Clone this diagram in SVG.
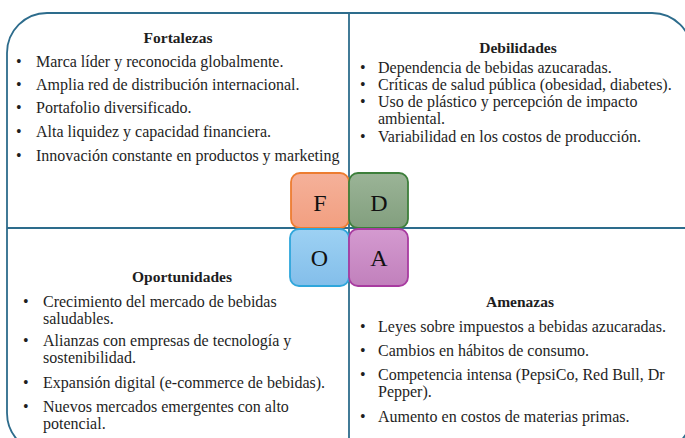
<svg xmlns="http://www.w3.org/2000/svg" width="685" height="438" viewBox="0 0 685 438">
<defs>
<style>
.t{font-family:"Liberation Serif","Times New Roman",serif;font-size:16px;fill:#1e1e1e}
.h{font-family:"Liberation Serif","Times New Roman",serif;font-size:15.5px;font-weight:bold;fill:#1e1e1e;text-anchor:middle}
.l{font-family:"Liberation Serif","Times New Roman",serif;font-size:24px;fill:#111;text-anchor:middle}
.div{stroke:#2D6C8C;stroke-width:1.8;fill:none}
</style>
<linearGradient id="gF" x1="0" y1="0" x2="0" y2="1"><stop offset="0" stop-color="#F5B19A"/><stop offset="1" stop-color="#F29F80"/></linearGradient>
<linearGradient id="gD" x1="0" y1="0" x2="0" y2="1"><stop offset="0" stop-color="#9BB497"/><stop offset="1" stop-color="#829F7E"/></linearGradient>
<linearGradient id="gO" x1="0" y1="0" x2="0" y2="1"><stop offset="0" stop-color="#9DD1F3"/><stop offset="1" stop-color="#83BEEA"/></linearGradient>
<linearGradient id="gA" x1="0" y1="0" x2="0" y2="1"><stop offset="0" stop-color="#D49AD0"/><stop offset="1" stop-color="#C180BC"/></linearGradient>
</defs>
<rect width="685" height="438" fill="#ffffff"/>
<g id="frame">
<rect x="7" y="13" width="685" height="440" rx="40" ry="40" class="div"/>
</g>
<g id="connectors">
<line x1="349" y1="13" x2="349" y2="438" class="div"/>
<line x1="7" y1="228" x2="692" y2="228" class="div"/>
</g>
<g id="fortalezas">
<text x="178" y="43" class="h">Fortalezas</text>
<text class="t"><tspan x="16" y="67">•</tspan><tspan x="36" y="67">Marca líder y reconocida globalmente.</tspan></text>
<text class="t"><tspan x="16" y="90">•</tspan><tspan x="36" y="90">Amplia red de distribución internacional.</tspan></text>
<text class="t"><tspan x="16" y="113">•</tspan><tspan x="36" y="113">Portafolio diversificado.</tspan></text>
<text class="t"><tspan x="16" y="137">•</tspan><tspan x="36" y="137">Alta liquidez y capacidad financiera.</tspan></text>
<text class="t"><tspan x="16" y="161">•</tspan><tspan x="36" y="161">Innovación constante en productos y marketing</tspan></text>
</g>
<g id="debilidades">
<text x="518" y="53" class="h">Debilidades</text>
<text class="t"><tspan x="360" y="73">•</tspan><tspan x="378" y="73">Dependencia de bebidas azucaradas.</tspan></text>
<text class="t"><tspan x="360" y="90">•</tspan><tspan x="378" y="90">Críticas de salud pública (obesidad, diabetes).</tspan></text>
<text class="t"><tspan x="360" y="107">•</tspan><tspan x="378" y="107">Uso de plástico y percepción de impacto</tspan><tspan x="378" y="124">ambiental.</tspan></text>
<text class="t"><tspan x="360" y="142">•</tspan><tspan x="378" y="142">Variabilidad en los costos de producción.</tspan></text>
</g>
<g id="oportunidades">
<text x="182" y="282" class="h">Oportunidades</text>
<text class="t"><tspan x="23" y="307">•</tspan><tspan x="43" y="307">Crecimiento del mercado de bebidas</tspan><tspan x="43" y="324">saludables.</tspan></text>
<text class="t"><tspan x="23" y="346">•</tspan><tspan x="43" y="346">Alianzas  con empresas de tecnología y</tspan><tspan x="43" y="363">sostenibilidad.</tspan></text>
<text class="t"><tspan x="23" y="388">•</tspan><tspan x="43" y="388">Expansión digital (e-commerce de bebidas).</tspan></text>
<text class="t"><tspan x="23" y="412">•</tspan><tspan x="43" y="412">Nuevos mercados emergentes con alto</tspan><tspan x="43" y="429">potencial.</tspan></text>
</g>
<g id="amenazas">
<text x="520" y="307" class="h">Amenazas</text>
<text class="t"><tspan x="360" y="332">•</tspan><tspan x="378" y="332">Leyes sobre impuestos a bebidas azucaradas.</tspan></text>
<text class="t"><tspan x="360" y="356">•</tspan><tspan x="378" y="356">Cambios en hábitos de consumo.</tspan></text>
<text class="t"><tspan x="360" y="380">•</tspan><tspan x="378" y="380">Competencia intensa (PepsiCo, Red Bull, Dr</tspan><tspan x="378" y="397">Pepper).</tspan></text>
<text class="t"><tspan x="360" y="422">•</tspan><tspan x="378" y="422">Aumento en costos de materias primas.</tspan></text>
</g>
<g id="boxF">
<rect x="291" y="173" width="58" height="55" rx="9" fill="url(#gF)" stroke="#ED7D31" stroke-width="1.8"/>
<text x="320" y="211" class="l">F</text>
</g>
<g id="boxD">
<rect x="349" y="173" width="59" height="55" rx="9" fill="url(#gD)" stroke="#3D7F3B" stroke-width="1.8"/>
<text x="379" y="211" class="l">D</text>
</g>
<g id="boxO">
<rect x="290" y="229" width="59" height="57" rx="9" fill="url(#gO)" stroke="#2FA6DB" stroke-width="1.8"/>
<text x="319.5" y="266" class="l">O</text>
</g>
<g id="boxA">
<rect x="349" y="229" width="59" height="57" rx="9" fill="url(#gA)" stroke="#A83BA0" stroke-width="1.8"/>
<text x="379" y="266" class="l">A</text>
</g>
</svg>
